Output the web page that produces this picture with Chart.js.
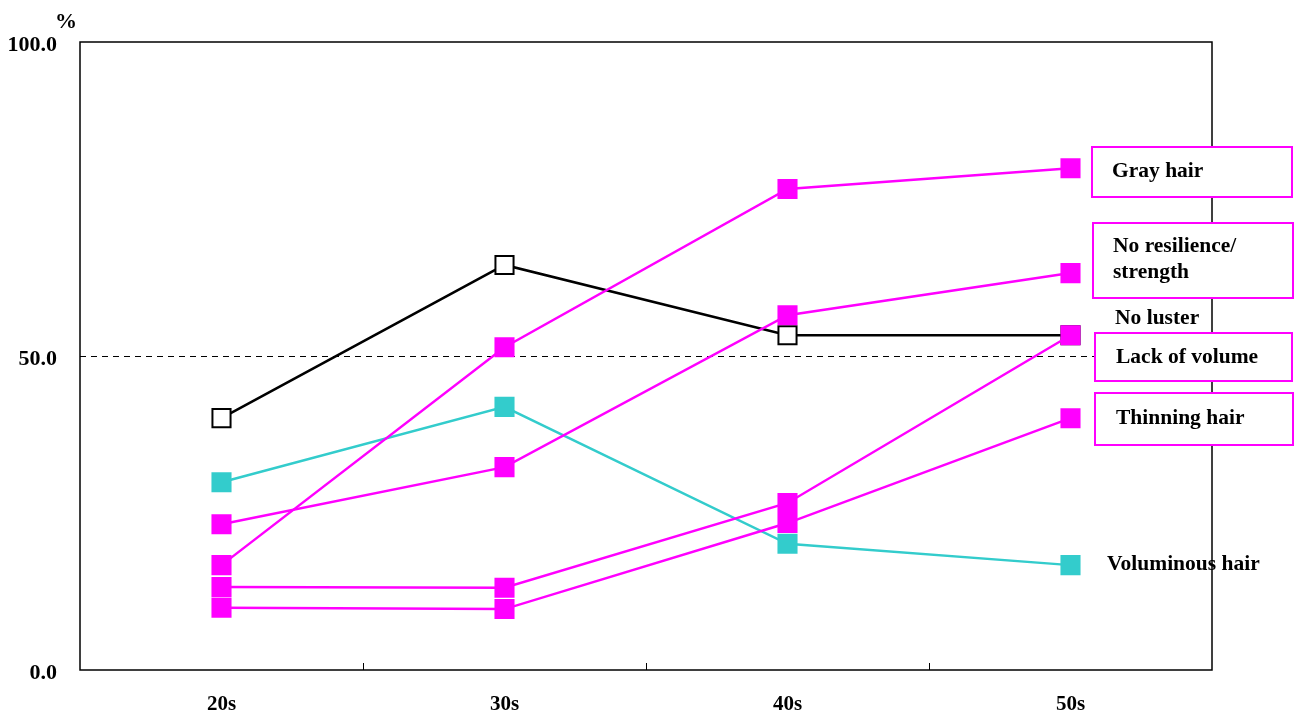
<!DOCTYPE html>
<html>
<head>
<meta charset="utf-8">
<script src="https://cdn.jsdelivr.net/npm/chart.js@4.4.1/dist/chart.umd.min.js"></script>
<style>
  html, body { margin: 0; padding: 0; background: #ffffff; }
  #wrap { width: 1296px; height: 716px; }
</style>
</head>
<body>
<div id="wrap"><canvas id="chart" width="1296" height="716"></canvas></div>
<script>
// Age groups along the x axis
const categories = ['20s', '30s', '40s', '50s'];

// Share of respondents (%) per hair concern
const noLuster       = [40.1, 64.5, 53.3, 53.3];
const grayHair       = [16.7, 51.4, 76.6, 79.9];
const noResilience   = [23.2, 32.3, 56.5, 63.2];
const lackOfVolume   = [13.2, 13.1, 26.6, 53.3];
const thinningHair   = [9.9, 9.7, 23.4, 40.1];
const voluminousHair = [29.9, 41.9, 20.1, 16.7];

// Series names shown next to the last point
const seriesNames = ['No luster', 'Gray hair', 'No resilience/\nstrength', 'Lack of volume', 'Thinning hair', 'Voluminous hair'];

// Value axis ticks
const yTicks = [0, 50, 100];

const MAGENTA = '#ff00ff';
const CYAN = '#33cccc';
const FONT = "'Liberation Serif', 'Times New Roman', serif";

function series(label, data, color, fill, width) {
  const hollow = fill === '#ffffff';
  return {
    label: label,
    data: data,
    borderColor: color,
    borderWidth: width,
    pointStyle: 'rect',
    pointRadius: hollow ? 12.8 : 14.2,
    pointHoverRadius: hollow ? 12.8 : 14.2,
    pointBackgroundColor: fill,
    pointBorderColor: color,
    pointBorderWidth: hollow ? 2 : 0,
    tension: 0,
    fill: false
  };
}

// Frame, dashed 50% reference line, inner category ticks, unit and series labels
const decorations = {
  id: 'decorations',
  beforeDatasetsDraw(chart) {
    const { ctx, chartArea: a, scales } = chart;
    const y = scales.y, x = scales.x;
    ctx.save();
    // dashed reference line at 50
    const y50 = Math.round(y.getPixelForValue(50)) + 0.5;
    ctx.strokeStyle = '#000';
    ctx.lineWidth = 1;
    ctx.setLineDash([6, 5]);
    ctx.beginPath();
    ctx.moveTo(a.left, y50);
    ctx.lineTo(a.right, y50);
    ctx.stroke();
    ctx.setLineDash([]);
    // plot frame
    ctx.lineWidth = 1.5;
    ctx.strokeRect(a.left, a.top, a.right - a.left, a.bottom - a.top);
    // tick marks between categories, pointing into the plot
    ctx.lineWidth = 1;
    for (let i = 0; i < categories.length - 1; i++) {
      const px = Math.round((x.getPixelForValue(i) + x.getPixelForValue(i + 1)) / 2) + 0.5;
      ctx.beginPath();
      ctx.moveTo(px, a.bottom);
      ctx.lineTo(px, a.bottom - 7);
      ctx.stroke();
    }
    ctx.restore();
  },
  afterDraw(chart) {
    const { ctx, chartArea: a } = chart;
    ctx.save();
    ctx.fillStyle = '#000';
    ctx.font = 'bold 22px ' + FONT;
    ctx.textBaseline = 'middle';
    ctx.textAlign = 'center';
    ctx.fillText('%', a.left - 14, 22);

    // series labels: [name index, text x, first line y, box]
    const items = [
      { i: 1, tx: 1112, ty: 171, box: [1092, 147, 200, 50] },
      { i: 2, tx: 1113, ty: 246, box: [1093, 223, 200, 75] },
      { i: 0, tx: 1115, ty: 318, box: null },
      { i: 3, tx: 1116, ty: 357, box: [1095, 333, 197, 48] },
      { i: 4, tx: 1116, ty: 418, box: [1095, 393, 198, 52] },
      { i: 5, tx: 1107, ty: 564, box: null }
    ];
    ctx.textAlign = 'left';
    ctx.font = 'bold 21.5px ' + FONT;
    items.forEach(it => {
      if (it.box) {
        ctx.fillStyle = '#fff';
        ctx.fillRect(it.box[0], it.box[1], it.box[2], it.box[3]);
        ctx.strokeStyle = MAGENTA;
        ctx.lineWidth = 2;
        ctx.strokeRect(it.box[0], it.box[1], it.box[2], it.box[3]);
      }
      ctx.fillStyle = '#000';
      seriesNames[it.i].split('\n').forEach((line, k) => {
        ctx.fillText(line, it.tx, it.ty + k * 26);
      });
    });
    ctx.restore();
  }
};

new Chart(document.getElementById('chart'), {
  type: 'line',
  data: {
    labels: categories,
    datasets: [
      series(seriesNames[1], grayHair, MAGENTA, MAGENTA, 2.5),
      series(seriesNames[2], noResilience, MAGENTA, MAGENTA, 2.5),
      series(seriesNames[3], lackOfVolume, MAGENTA, MAGENTA, 2.5),
      series(seriesNames[4], thinningHair, MAGENTA, MAGENTA, 2.5),
      series(seriesNames[5], voluminousHair, CYAN, CYAN, 2.5),
      series(seriesNames[0], noLuster, '#000000', '#ffffff', 2.5)
    ]
  },
  options: {
    responsive: false,
    animation: false,
    devicePixelRatio: 1,
    layout: { padding: { top: 42, right: 84, left: 0, bottom: 0 } },
    plugins: {
      legend: { display: false },
      tooltip: { enabled: false }
    },
    scales: {
      x: {
        offset: true,
        grid: { display: false, drawTicks: false },
        border: { display: false },
        ticks: {
          color: '#000',
          padding: 22,
          font: { family: FONT, size: 21, weight: 'bold' }
        },
        afterFit(scale) { scale.height = 46; }
      },
      y: {
        min: 0,
        max: 100,
        afterBuildTicks(scale) { scale.ticks = yTicks.map(v => ({ value: v })); },
        grid: { display: false, drawTicks: false },
        border: { display: false },
        ticks: {
          color: '#000',
          padding: 23,
          labelOffset: 3,
          font: { family: FONT, size: 22, weight: 'bold' },
          callback: v => Number(v).toFixed(1)
        },
        afterFit(scale) { scale.width = 80; }
      }
    }
  },
  plugins: [decorations]
});
</script>
</body>
</html>
